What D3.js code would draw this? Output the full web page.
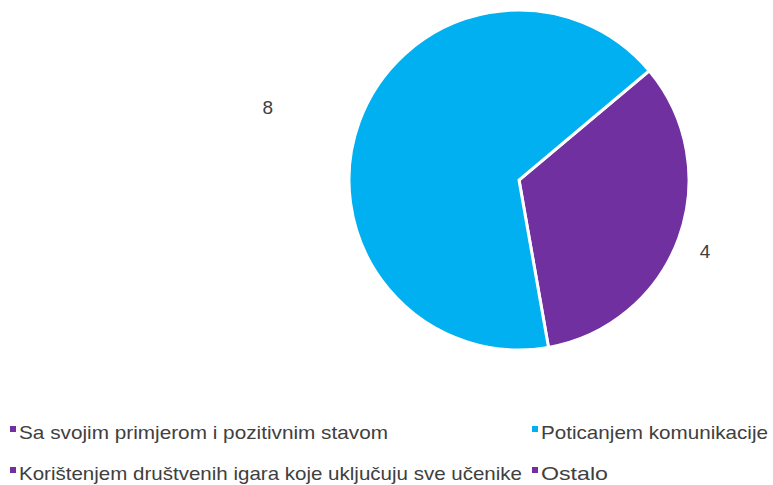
<!DOCTYPE html>
<html>
<head>
<meta charset="utf-8">
<script src="https://cdn.jsdelivr.net/npm/d3@7"></script>
<style>
  body { margin: 0; background: #fff; }
  text { font-family: "Liberation Sans", Arial, sans-serif; }
</style>
</head>
<body>
<svg></svg>
<script>
let categories = ["Sa svojim primjerom i pozitivnim stavom", "Poticanjem komunikacije",
                  "Korištenjem društvenih igara koje uključuju sve učenike", "Ostalo"];
let values = [4, 8, 0, 0];
let colors = ["#7030A0", "#00B0F0", "#7030A0", "#7030A0"];

let width = 773;
let height = 485;
let cx = 519, cy = 180, radius = 170;

let svg = d3.select("svg").attr("width", width).attr("height", height);

let startAngle = 50 * Math.PI / 180;
let pie = d3.pie().sort(null).value(d => d)
            .startAngle(startAngle).endAngle(startAngle + 2 * Math.PI);
let arcs = pie(values);

let arc = d3.arc().innerRadius(0).outerRadius(radius);

let g = svg.append("g").attr("transform", "translate(" + cx + "," + cy + ")");

g.selectAll("path")
 .data(arcs.filter(a => a.value > 0))
 .enter()
 .append("path")
 .attr("d", arc)
 .attr("fill", a => colors[a.index])
 .attr("stroke", "#fff")
 .attr("stroke-width", 3)
 .attr("stroke-linejoin", "miter");

// labels sit outside the slices (Excel "best fit" style, nudged by hand)
let labelRadius = [200, 262, 200, 200];
let labelNudge = [[-2, 3], [-5, 17], [0, 0], [0, 0]];
let labelPos = a => {
  let r = labelRadius[a.index];
  let p = d3.arc().innerRadius(r).outerRadius(r).centroid(a);
  return [p[0] + labelNudge[a.index][0], p[1] + labelNudge[a.index][1]];
};
g.selectAll(".lbl")
 .data(arcs.filter(a => a.value > 0))
 .enter()
 .append("text")
 .attr("class", "lbl")
 .attr("x", a => labelPos(a)[0])
 .attr("y", a => labelPos(a)[1])
 .attr("text-anchor", "middle")
 .attr("dominant-baseline", "central")
 .attr("font-size", 19)
 .attr("fill", "#404040")
 .text(a => a.value);

// legend, two columns
let legendPos = [[10, 432], [532, 432], [10, 473], [532, 473]];
let legendWidth = [369, 227, 503, 67];
let legend = svg.selectAll(".leg")
  .data(categories)
  .enter()
  .append("g")
  .attr("class", "leg")
  .attr("transform", (d, i) => "translate(" + legendPos[i][0] + "," + legendPos[i][1] + ")");

legend.append("rect")
  .attr("x", 0).attr("y", -6)
  .attr("width", 6).attr("height", 6)
  .attr("fill", (d, i) => colors[i]);

legend.append("text")
  .attr("x", 9)
  .attr("y", 0)
  .attr("dominant-baseline", "central")
  .attr("font-size", 19)
  .attr("fill", "#404040")
  .attr("textLength", (d, i) => legendWidth[i])
  .attr("lengthAdjust", "spacingAndGlyphs")
  .text(d => d);
</script>
</body>
</html>
